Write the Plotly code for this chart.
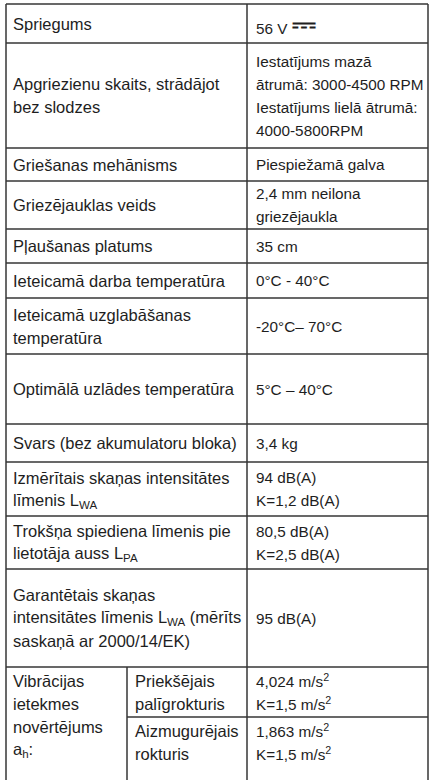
import plotly.graph_objects as go

# ---------------- data ----------------
params = [
    "Spriegums",
    "Apgriezienu skaits, strādājot\nbez slodzes",
    "Griešanas mehānisms",
    "Griezējauklas veids",
    "Pļaušanas platums",
    "Ieteicamā darba temperatūra",
    "Ieteicamā uzglabāšanas\ntemperatūra",
    "Optimālā uzlādes temperatūra",
    "Svars (bez akumulatoru bloka)",
    "Izmērītais skaņas intensitātes\nlīmenis L<sub>WA</sub>",
    "Trokšņa spiediena līmenis pie\nlietotāja auss L<sub>PA</sub>",
    "Garantētais skaņas\nintensitātes līmenis L<sub>WA</sub> (mērīts\nsaskaņā ar 2000/14/EK)",
]
values = [
    "56 V <b><span style='font-size:30px'>⎓</span></b>",
    "Iestatījums mazā\nātrumā: 3000-4500 RPM\nIestatījums lielā ātrumā:\n4000-5800RPM",
    "Piespiežamā galva",
    "2,4 mm neilona\ngriezējaukla",
    "35 cm",
    "0°C - 40°C",
    "-20°C– 70°C",
    "5°C – 40°C",
    "3,4 kg",
    "94 dB(A)\nK=1,2 dB(A)",
    "80,5 dB(A)\nK=2,5 dB(A)",
    "95 dB(A)",
]
vib_label = "Vibrācijas\nietekmes\nnovērtējums\na<sub>h</sub>:"
vib_parts = ["Priekšējais\npalīgrokturis", "Aizmugurējais\nrokturis"]
vib_values = ["4,024 m/s<sup>2</sup>\nK=1,5 m/s<sup>2</sup>",
              "1,863 m/s<sup>2</sup>\nK=1,5 m/s<sup>2</sup>"]

# ---------------- geometry / style ----------------
W, H = 429, 780
X_LEFT, X_SUB, X_MID, X_RIGHT = 6, 127, 247, 428
ROW_EDGES = [4, 43, 148, 181, 229, 263, 298, 354, 424, 462, 516, 569, 667]
VIB_EDGES = [667, 717, 767]
LINE_H = 23
TOP_OFF = 13.5
FONT = "Liberation Sans, Arial, DejaVu Sans"
FSIZE_L = 16.5
FSIZE_R = 15.3
TXT = "#1e1e1e"
LINE_C = "#363636"
LW = 1.5

fig = go.Figure()
shapes = []
annotations = []


def hline(y, x0, x1):
    shapes.append(dict(type="line", xref="x", yref="y", x0=x0, x1=x1, y0=y, y1=y,
                       line=dict(color=LINE_C, width=LW)))


def vline(x, y0, y1):
    shapes.append(dict(type="line", xref="x", yref="y", x0=x, x1=x, y0=y0, y1=y1,
                       line=dict(color=LINE_C, width=LW)))


def cell_text(text, x, y0, y1, size, top=False):
    lines = text.split("\n")
    n = len(lines)
    if top:
        first = y0 + TOP_OFF
    else:
        first = (y0 + y1) / 2 - (n - 1) / 2 * LINE_H
    for i, ln in enumerate(lines):
        annotations.append(dict(
            x=x, y=first + i * LINE_H, xref="x", yref="y",
            text=ln, showarrow=False, xanchor="left", yanchor="middle",
            borderpad=0,
            font=dict(family=FONT, size=size, color=TXT)))


# horizontal lines
for y in ROW_EDGES:
    hline(y, X_LEFT, X_RIGHT)
hline(VIB_EDGES[1], X_SUB, X_RIGHT)

# vertical lines
vline(X_LEFT, ROW_EDGES[0], H)
vline(X_RIGHT, ROW_EDGES[0], H)
vline(X_MID, ROW_EDGES[0], H)
vline(X_SUB, VIB_EDGES[0], H)

# texts
for i, (p, v) in enumerate(zip(params, values)):
    y0, y1 = ROW_EDGES[i], ROW_EDGES[i + 1]
    cell_text(p, X_LEFT + 6, y0, y1, FSIZE_L)
    cell_text(v, X_MID + 8, y0, y1, FSIZE_R)

cell_text(vib_label, X_LEFT + 6, VIB_EDGES[0], VIB_EDGES[-1], FSIZE_L, top=True)
for j in range(2):
    y0, y1 = VIB_EDGES[j], VIB_EDGES[j + 1]
    cell_text(vib_parts[j], X_SUB + 7, y0, y1, FSIZE_L)
    cell_text(vib_values[j], X_MID + 8, y0, y1, FSIZE_R)

fig.update_layout(
    width=W, height=H,
    margin=dict(l=0, r=0, t=0, b=0),
    paper_bgcolor="white", plot_bgcolor="white",
    xaxis=dict(range=[0, W], visible=False, fixedrange=True),
    yaxis=dict(range=[H, 0], visible=False, fixedrange=True),
    shapes=shapes, annotations=annotations,
    showlegend=False,
)

fig.write_html(
    "out.html",
    config={"displayModeBar": False, "staticPlot": True},
    post_script="document.body.style.margin='0';document.body.style.overflow='hidden';",
)
